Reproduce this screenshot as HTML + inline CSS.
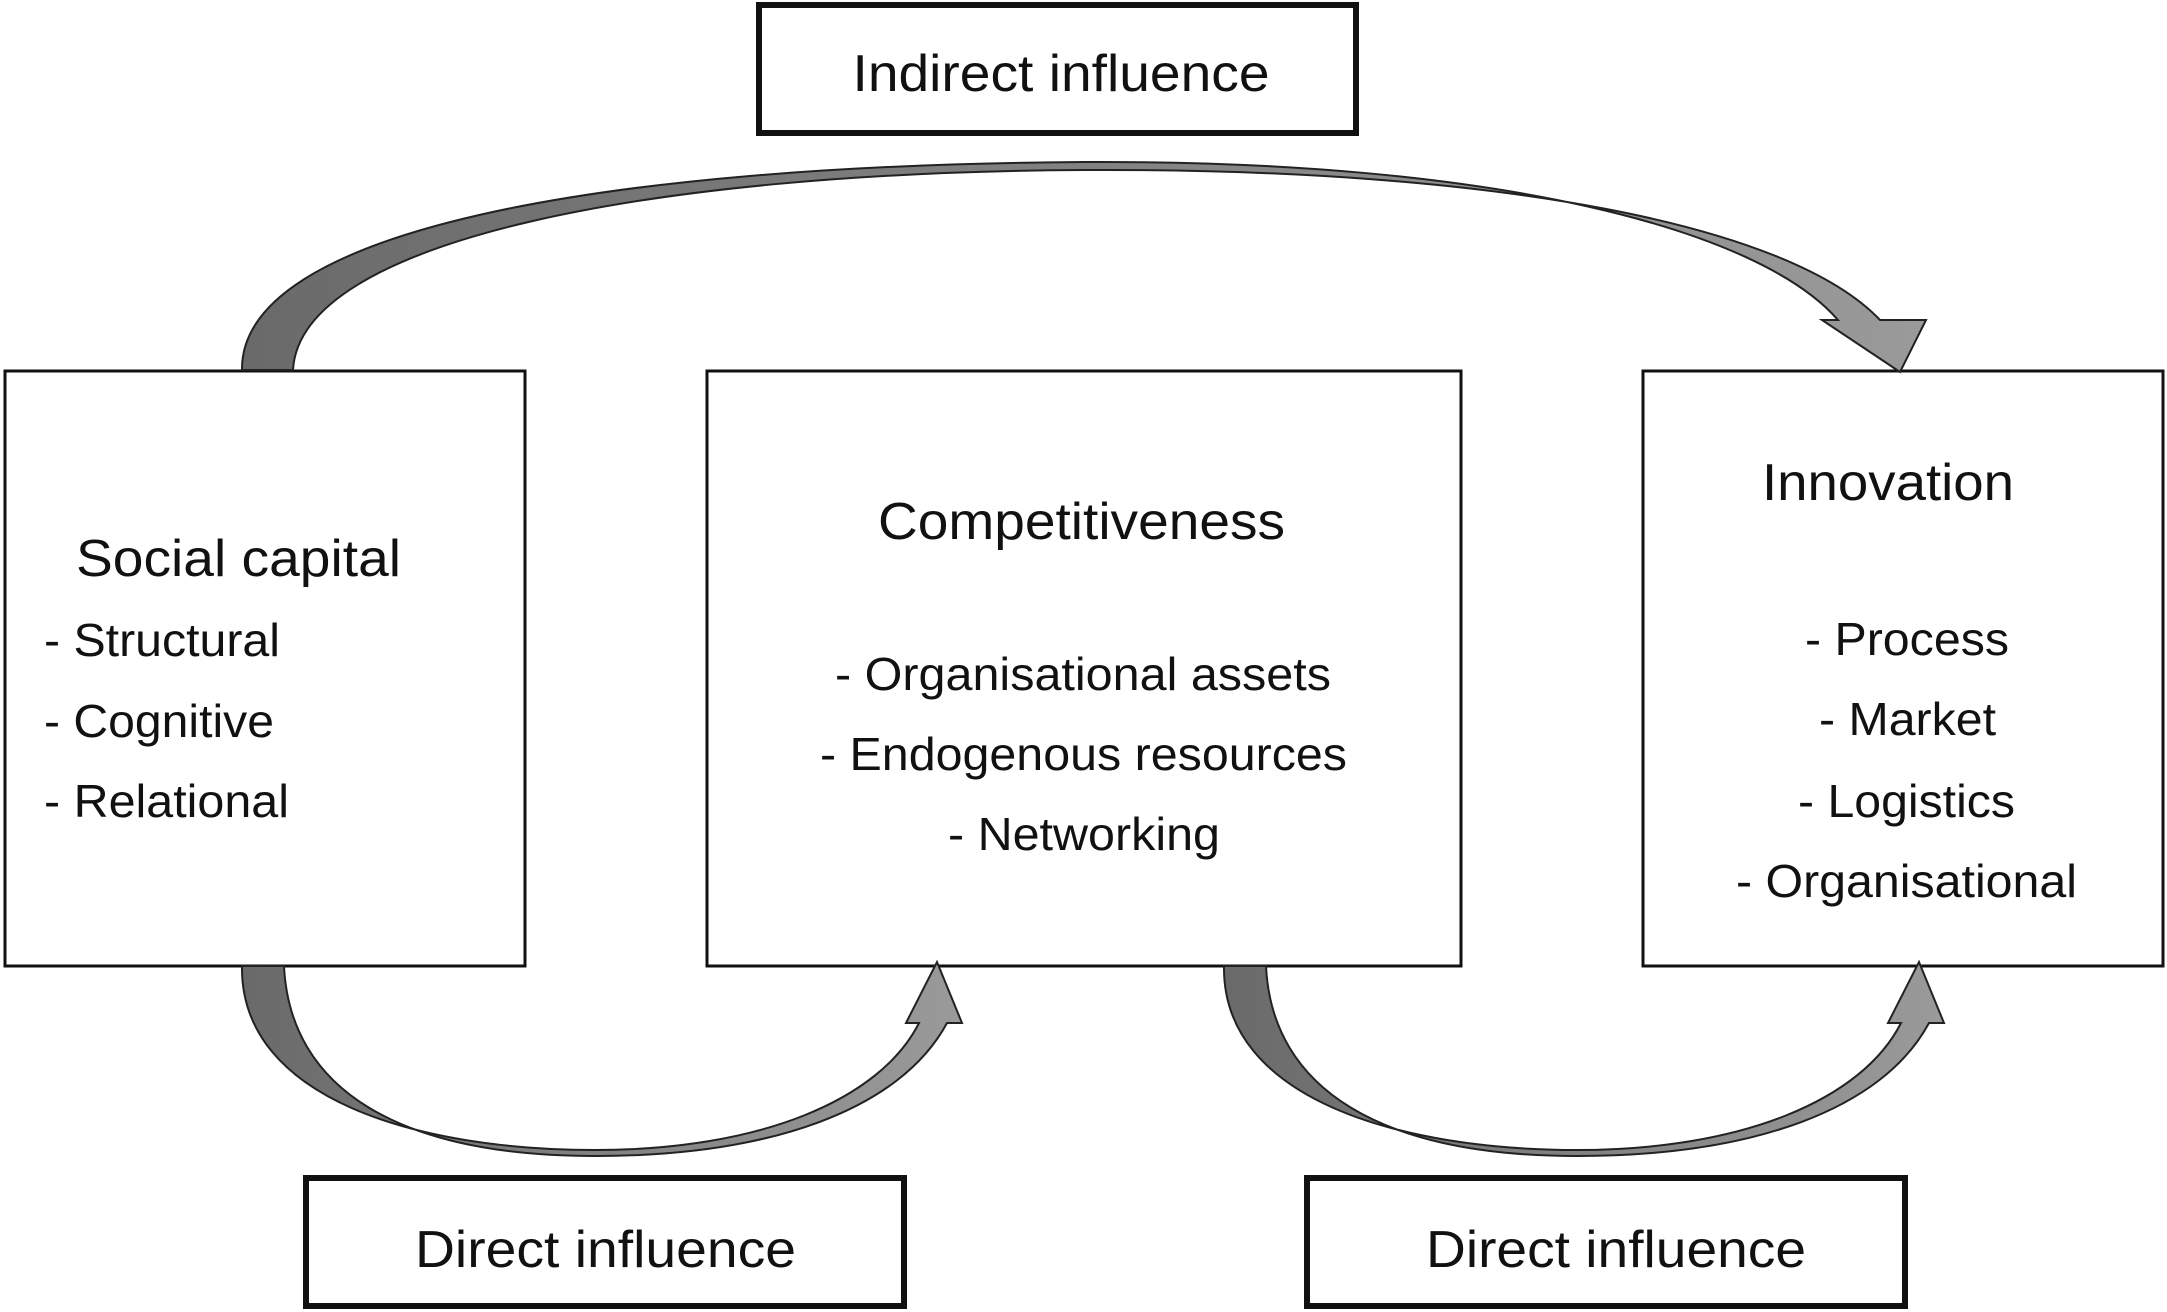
<!DOCTYPE html>
<html><head><meta charset="utf-8"><style>
html,body{margin:0;padding:0;background:#fff;}
svg{display:block;}
text{font-family:"Liberation Sans",Arial,sans-serif;fill:#111;}
</style></head><body>
<svg width="2167" height="1312" viewBox="0 0 2167 1312" xmlns="http://www.w3.org/2000/svg">
<defs>
<linearGradient id="g" x1="0" y1="0" x2="1" y2="0">
<stop offset="0" stop-color="#6a6a6a"/><stop offset="1" stop-color="#9a9a9a"/>
</linearGradient>
</defs>
<!-- boxes -->
<rect x="759" y="5" width="597" height="128" fill="#fff" stroke="#111" stroke-width="6"/>
<rect x="5" y="371" width="520" height="595" fill="#fff" stroke="#111" stroke-width="3"/>
<rect x="707" y="371" width="754" height="595" fill="#fff" stroke="#111" stroke-width="3"/>
<rect x="1643" y="371" width="520" height="595" fill="#fff" stroke="#111" stroke-width="3"/>
<rect x="306" y="1178" width="598" height="128" fill="#fff" stroke="#111" stroke-width="6"/>
<rect x="1307" y="1178" width="598" height="128" fill="#fff" stroke="#111" stroke-width="6"/>

<!-- arrows -->
<path d="M242,370 C240,230 600,165 1085,162 C1500,160 1760,230 1838,320 L1822,320 L1900,372 L1926,320 L1880,320 C1790,225 1500,168 1085,170 C650,172 300,240 293,370 Z" fill="url(#g)" stroke="#222" stroke-width="2"/>
<path d="M242,966 C240,1100 420,1150 595,1150 C760,1150 880,1100 919,1023 L906,1023 L937,962 L962,1023 L947,1023 C900,1110 770,1156 595,1156 C400,1156 290,1090 284,966 Z" fill="url(#g)" stroke="#222" stroke-width="2"/>
<path d="M1224,966 C1222,1100 1402,1150 1577,1150 C1742,1150 1862,1100 1901,1023 L1888,1023 L1919,962 L1944,1023 L1929,1023 C1882,1110 1752,1156 1577,1156 C1382,1156 1272,1090 1266,966 Z" fill="url(#g)" stroke="#222" stroke-width="2"/>

<!-- text -->
<text x="1061" y="91" font-size="52" text-anchor="middle" textLength="417" lengthAdjust="spacingAndGlyphs">Indirect influence</text>
<text x="415" y="1267" font-size="52" textLength="381" lengthAdjust="spacingAndGlyphs">Direct influence</text>
<text x="1426" y="1267" font-size="52" textLength="380" lengthAdjust="spacingAndGlyphs">Direct influence</text>

<text x="76" y="576" font-size="52" textLength="325" lengthAdjust="spacingAndGlyphs">Social capital</text>
<text x="44" y="656" font-size="46" textLength="236" lengthAdjust="spacingAndGlyphs">- Structural</text>
<text x="44" y="737" font-size="46" textLength="230" lengthAdjust="spacingAndGlyphs">- Cognitive</text>
<text x="44" y="817" font-size="46" textLength="245" lengthAdjust="spacingAndGlyphs">- Relational</text>

<text x="878" y="539" font-size="52" textLength="407" lengthAdjust="spacingAndGlyphs">Competitiveness</text>
<text x="835" y="690" font-size="46" textLength="496" lengthAdjust="spacingAndGlyphs">- Organisational assets</text>
<text x="820" y="770" font-size="46" textLength="527" lengthAdjust="spacingAndGlyphs">- Endogenous resources</text>
<text x="948" y="850" font-size="46" textLength="272" lengthAdjust="spacingAndGlyphs">- Networking</text>

<text x="1762" y="500" font-size="52" textLength="252" lengthAdjust="spacingAndGlyphs">Innovation</text>
<text x="1805" y="655" font-size="46" textLength="204" lengthAdjust="spacingAndGlyphs">- Process</text>
<text x="1819" y="735" font-size="46" textLength="177" lengthAdjust="spacingAndGlyphs">- Market</text>
<text x="1798" y="817" font-size="46" textLength="217" lengthAdjust="spacingAndGlyphs">- Logistics</text>
<text x="1736" y="897" font-size="46" textLength="341" lengthAdjust="spacingAndGlyphs">- Organisational</text>
</svg>
</body></html>
